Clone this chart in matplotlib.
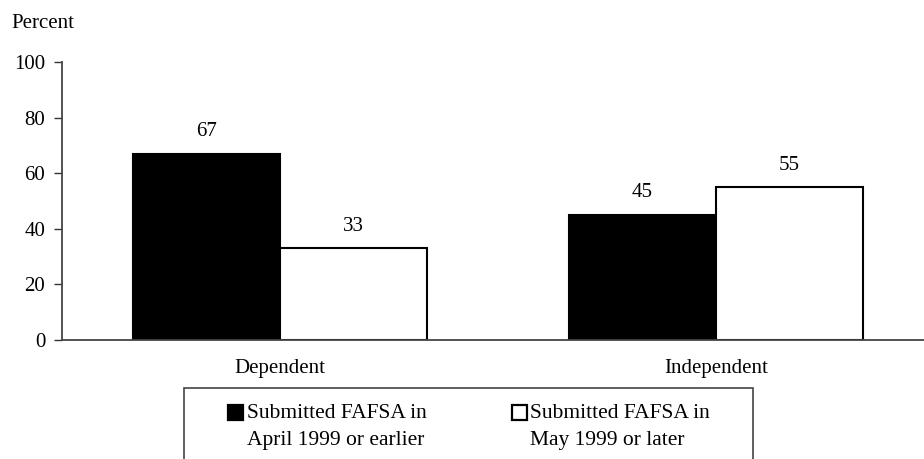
import matplotlib.pyplot as plt
from matplotlib.patches import Rectangle
import numpy as np

plt.rcParams["font.family"] = ["Liberation Serif", "DejaVu Serif"]

categories = ["Dependent", "Independent"]
early = [67, 45]
late = [33, 55]
series_labels = ["Submitted FAFSA in\nApril 1999 or earlier",
                 "Submitted FAFSA in\nMay 1999 or later"]
series_colors = ["black", "white"]
yticks = [0, 20, 40, 60, 80, 100]

W, H = 924, 459
fig = plt.figure(figsize=(W / 100, H / 100), dpi=100)
ax = fig.add_axes([62 / W, 1 - 340 / H, 1 - 62 / W, (340 - 62) / H])

x = np.arange(len(categories))
w = 0.337
b1 = ax.bar(x - w / 2, early, w, color=series_colors[0], edgecolor="black",
            linewidth=1.5)
b2 = ax.bar(x + w / 2, late, w, color=series_colors[1], edgecolor="black",
            linewidth=1.5)

for bars in (b1, b2):
    for rect in bars:
        h = rect.get_height()
        ax.annotate(f"{h:.0f}", (rect.get_x() + rect.get_width() / 2, h),
                    xytext=(0, 9), textcoords="offset points",
                    ha="center", va="bottom", fontsize=15)

ax.set_xlim(-0.5, 1.477)
ax.set_ylim(0, 100)
ax.set_yticks(yticks)
ax.set_xticks(x)
ax.set_xticklabels(categories)
ax.tick_params(axis="x", length=0, pad=14, labelsize=15)
ax.tick_params(axis="y", length=6, width=1, direction="out", pad=6, labelsize=15,
               color="#333333")
for side in ("top", "right"):
    ax.spines[side].set_visible(False)
for side in ("left", "bottom"):
    ax.spines[side].set_color("#444444")
    ax.spines[side].set_linewidth(1.3)

fig.text(11 / W, 1 - 24 / H, "Percent", fontsize=15, va="center", ha="left")

# legend box drawn by hand (it runs off the bottom edge in the original)
fig.add_artist(Rectangle((184 / W, -0.05), (753 - 184) / W, 0.05 + 1 - 388 / H,
                         transform=fig.transFigure, facecolor="none",
                         edgecolor="#444444", linewidth=1.2))
sq = 15
for (sx, tx), label, col in zip([(228, 247), (512, 530)], series_labels, series_colors):
    fig.add_artist(Rectangle((sx / W, 1 - 420 / H), sq / W, sq / H,
                             transform=fig.transFigure, facecolor=col,
                             edgecolor="black", linewidth=1.6))
    fig.text(tx / W, 1 - 427 / H, label, fontsize=15.5, ha="left", va="center",
             linespacing=1.5)

fig.savefig("out.png", dpi=100)
